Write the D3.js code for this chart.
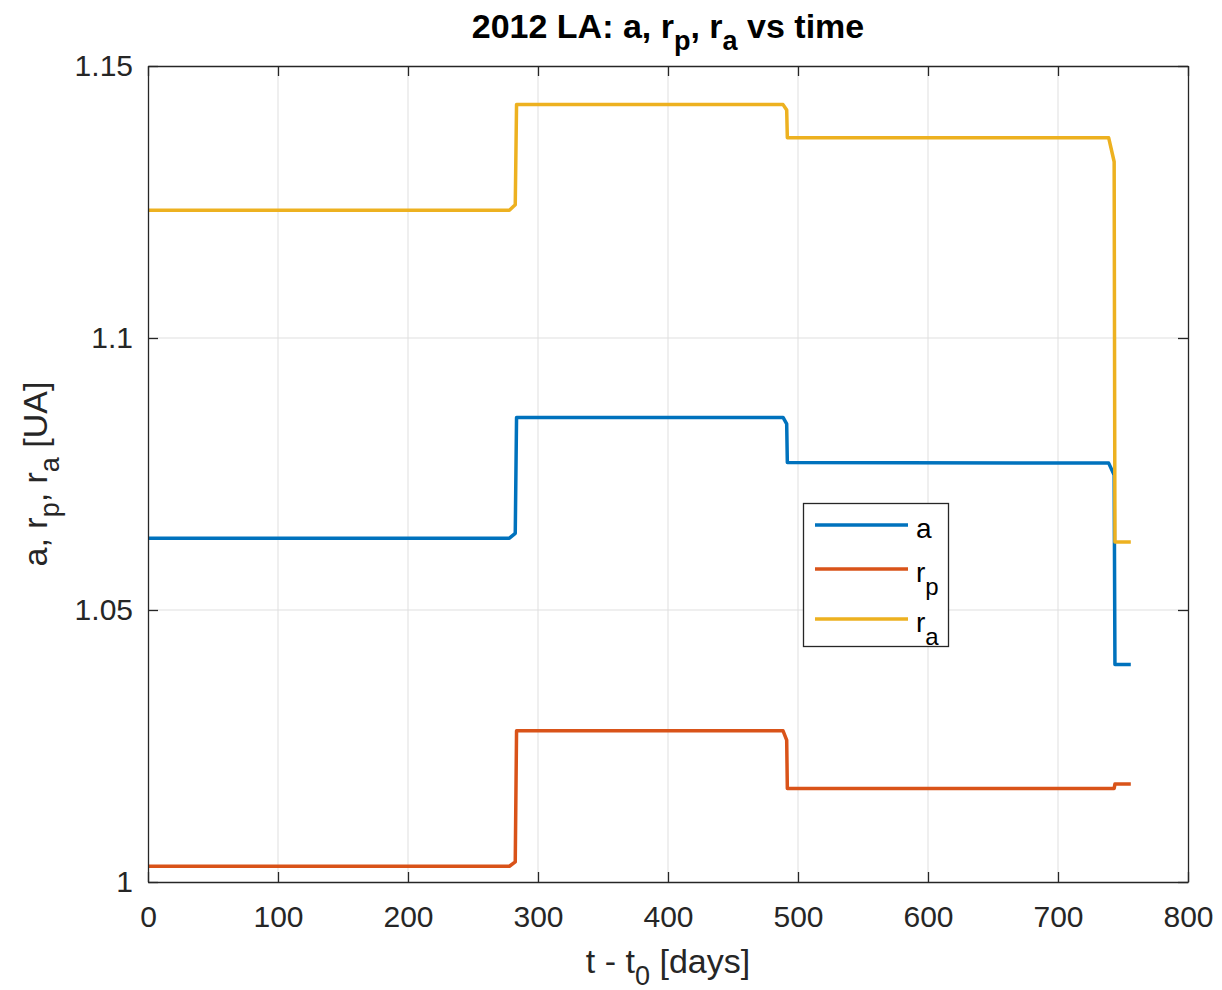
<!DOCTYPE html>
<html><head><meta charset="utf-8">
<script src="https://cdn.jsdelivr.net/npm/d3@7"></script>
<style>body{margin:0;background:#fff;font-family:"Liberation Sans",Arial,Helvetica,sans-serif;}</style>
</head><body>
<svg id="c" width="1222" height="990"></svg>
<script>
const times = [0, 278, 282.5, 283.5, 488.5, 491.3, 491.8, 739, 743.2, 743.8, 756];
const aVals  = [1.0632, 1.0632, 1.0641, 1.0854, 1.0854, 1.0842, 1.0771, 1.0770, 1.0748, 1.0400, 1.0400];
const rpVals = [1.0029, 1.0029, 1.0037, 1.0278, 1.0278, 1.0261, 1.0172, 1.0172, 1.0172, 1.0180, 1.0180];
const raVals = [1.1235, 1.1235, 1.1245, 1.1429, 1.1429, 1.1419, 1.1368, 1.1368, 1.1324, 1.0625, 1.0625];
const xTicks = [0, 100, 200, 300, 400, 500, 600, 700, 800];
const yTicks = [1, 1.05, 1.1, 1.15];
const seriesNames = ["a", "rp", "ra"];
const seriesColors = ["#0072BD", "#D95319", "#EDB120"];

const svg = d3.select("#c");
const L = 148, T = 66, R = 1188, B = 882;
const x = d3.scaleLinear().domain([0, 800]).range([L, R]);
const y = d3.scaleLinear().domain([1, 1.15]).range([B, T]);
const axisCol = "#262626";

// grid
svg.append("g").selectAll("line").data(xTicks.slice(1, -1)).join("line")
  .attr("x1", d => x(d)).attr("x2", d => x(d)).attr("y1", T).attr("y2", B)
  .attr("stroke", "#dfdfdf").attr("stroke-width", 1);
svg.append("g").selectAll("line").data(yTicks.slice(1, -1)).join("line")
  .attr("y1", d => y(d)).attr("y2", d => y(d)).attr("x1", L).attr("x2", R)
  .attr("stroke", "#dfdfdf").attr("stroke-width", 1);

// lines
const line = d3.line().x(d => x(d[0])).y(d => y(d[1]));
[aVals, rpVals, raVals].forEach((vals, i) => {
  svg.append("path").datum(times.map((t, k) => [t, vals[k]]))
    .attr("d", line).attr("fill", "none").attr("stroke", seriesColors[i])
    .attr("stroke-width", 3.5).attr("stroke-linejoin", "round");
});

// axes (box with inward ticks)
const fmtY = d => (d === 1 ? "1" : d3.format("")(d));
const gb = svg.append("g").attr("transform", `translate(0,${B})`)
  .call(d3.axisBottom(x).tickValues(xTicks).tickSizeInner(-10).tickSizeOuter(0).tickPadding(24));
const gt = svg.append("g").attr("transform", `translate(0,${T})`)
  .call(d3.axisTop(x).tickValues(xTicks).tickSizeInner(-10).tickSizeOuter(0).tickFormat(""));
const gl = svg.append("g").attr("transform", `translate(${L},0)`)
  .call(d3.axisLeft(y).tickValues(yTicks).tickSizeInner(-10).tickSizeOuter(0).tickPadding(15).tickFormat(fmtY));
const gr = svg.append("g").attr("transform", `translate(${R},0)`)
  .call(d3.axisRight(y).tickValues(yTicks).tickSizeInner(-10).tickSizeOuter(0).tickFormat(""));
[gb, gt, gl, gr].forEach(g => {
  g.selectAll("path").attr("stroke", axisCol).attr("stroke-width", 1.3);
  g.selectAll("line").attr("stroke", axisCol).attr("stroke-width", 1.3);
  g.selectAll("text").attr("fill", axisCol).style("font-size", "30px")
    .style("font-family", '"Liberation Sans",Arial,sans-serif');
});
gl.selectAll("text").attr("dy", "0.3em");

// title
const title = svg.append("text").attr("x", 668).attr("y", 38).attr("text-anchor", "middle")
  .attr("fill", "#000").style("font-size", "34px").style("font-weight", "bold");
title.append("tspan").text("2012 LA: a, r");
title.append("tspan").text("p").attr("dy", 12).style("font-size", "27px");
title.append("tspan").text(", r").attr("dy", -12);
title.append("tspan").text("a").attr("dy", 12).style("font-size", "27px");
title.append("tspan").text(" vs time").attr("dy", -12);

// x label
const xl = svg.append("text").attr("x", 668).attr("y", 973).attr("text-anchor", "middle")
  .attr("fill", axisCol).style("font-size", "34px");
xl.append("tspan").text("t - t");
xl.append("tspan").text("0").attr("dy", 12).style("font-size", "27px");
xl.append("tspan").text(" [days]").attr("dy", -12);

// y label
const yl = svg.append("text").attr("transform", "translate(47,474) rotate(-90)")
  .attr("text-anchor", "middle").attr("fill", axisCol).style("font-size", "34px");
yl.append("tspan").text("a, r");
yl.append("tspan").text("p").attr("dy", 12).style("font-size", "27px");
yl.append("tspan").text(", r").attr("dy", -12);
yl.append("tspan").text("a").attr("dy", 12).style("font-size", "27px");
yl.append("tspan").text(" [UA]").attr("dy", -12);

// legend
const lg = svg.append("g");
lg.append("rect").attr("x", 803.5).attr("y", 503.5).attr("width", 145).attr("height", 143)
  .attr("fill", "#fff").attr("stroke", axisCol).attr("stroke-width", 1.3);
const ly = [525, 569, 619];
seriesNames.forEach((n, i) => {
  lg.append("line").attr("x1", 815).attr("x2", 908).attr("y1", ly[i]).attr("y2", ly[i])
    .attr("stroke", seriesColors[i]).attr("stroke-width", 3.5);
  const t = lg.append("text").attr("x", 916).attr("y", ly[i] + 13).attr("fill", "#000")
    .style("font-size", "28px");
  if (n === "a") t.text("a");
  else {
    t.append("tspan").text("r");
    t.append("tspan").text(n.slice(1)).attr("dy", 13).style("font-size", "24px");
  }
});
</script>
</body></html>
